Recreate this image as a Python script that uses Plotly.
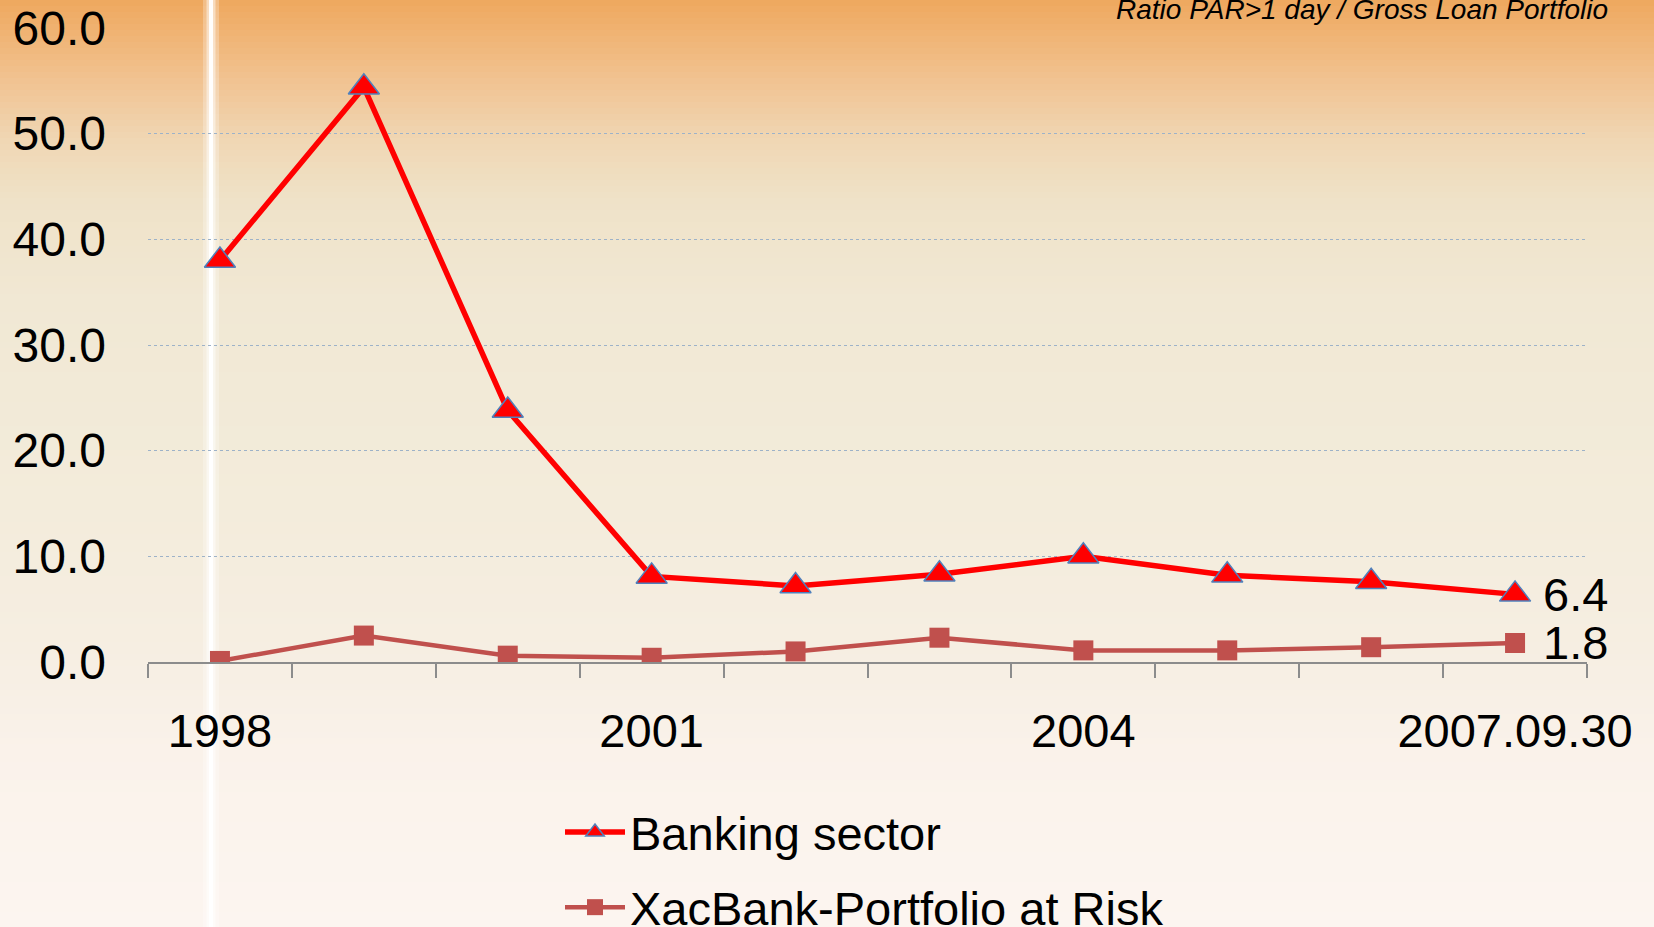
import plotly.graph_objects as go

# ---------------- data ----------------
categories = ["1998", "1999", "2000", "2001", "2002", "2003", "2004", "2005", "2006", "2007.09.30"]
tick_labels = ["1998", "", "", "2001", "", "", "2004", "", "", "2007.09.30"]
banking_sector = [38.0, 54.4, 23.8, 8.1, 7.2, 8.3, 10.0, 8.2, 7.6, 6.4]
xacbank_par = [0.1, 2.5, 0.6, 0.4, 1.0, 2.3, 1.1, 1.1, 1.4, 1.8]
y_ticks = [0, 10, 20, 30, 40, 50, 60]
chart_note = "Ratio PAR>1 day / Gross Loan Portfolio"

# ---------------- layout geometry ----------------
W, H = 1654, 927
ML, MR, MT, MB = 148, 67, 28, 265
PW, PH = W - ML - MR, H - MT - MB
FONT = "Liberation Sans, Arial, sans-serif"
FS = 47
LEG_ITEMW = 60


def px_x(p):
    return (p - ML) / PW


def px_y(p):
    return (H - MB - p) / PH


# background gradient (pixel y, colour)
stops = [
    (0, (238, 168, 94)),
    (30, (240, 178, 113)),
    (80, (241, 195, 145)),
    (140, (240, 215, 180)),
    (200, (239, 226, 200)),
    (300, (241, 232, 212)),
    (500, (243, 236, 219)),
    (650, (246, 238, 226)),
    (750, (250, 242, 234)),
    (927, (252, 245, 240)),
]


def colour_at(y):
    for (y0, c0), (y1, c1) in zip(stops[:-1], stops[1:]):
        if y0 <= y <= y1:
            t = (y - y0) / (y1 - y0) if y1 > y0 else 0
            return "rgb(%d,%d,%d)" % tuple(round(a + (b - a) * t) for a, b in zip(c0, c1))
    return "rgb(%d,%d,%d)" % stops[-1][1]


shapes = []
band = 6
for y in range(0, H, band):
    shapes.append(dict(
        type="rect", xref="paper", yref="paper", layer="below",
        x0=px_x(-2), x1=px_x(W + 2), y0=px_y(y + band + 1), y1=px_y(y),
        fillcolor=colour_at(y + band / 2), line=dict(width=0),
    ))
# white vertical streak of the background
for w, op in [(16, 0.25), (9, 0.45), (4, 0.95)]:
    shapes.append(dict(
        type="line", xref="paper", yref="paper", layer="below",
        x0=px_x(211), x1=px_x(211), y0=px_y(H + 2), y1=px_y(-2),
        line=dict(color="rgba(255,255,255,%.2f)" % op, width=w),
    ))

fig = go.Figure()

fig.add_trace(go.Scatter(
    x=categories, y=banking_sector, name="Banking sector",
    mode="lines+markers", legendgroup="a",
    line=dict(color="#FF0000", width=5.5),
    marker=dict(symbol="triangle-up", size=27, color="#FF0000",
                line=dict(color="#4F81BD", width=1.5)),
))
fig.add_trace(go.Scatter(
    x=categories, y=xacbank_par, name="XacBank-Portfolio at Risk",
    mode="lines+markers", legendgroup="b",
    line=dict(color="#C0504D", width=4.5),
    marker=dict(symbol="square", size=20, color="#C0504D"),
))

# end-point value labels
for series in (banking_sector, xacbank_par):
    fig.add_annotation(
        x=categories[-1], y=series[-1], text="%.1f" % series[-1],
        xref="x", yref="y", xanchor="left", yanchor="middle", xshift=26,
        showarrow=False, font=dict(family=FONT, size=FS, color="#000000"),
    )

fig.add_annotation(
    text="<i>%s</i>" % chart_note, xref="paper", yref="paper",
    x=px_x(1610), y=px_y(10), xanchor="right", yanchor="middle",
    showarrow=False, font=dict(family=FONT, size=28, color="#000000"),
)

fig.update_layout(
    width=W, height=H,
    margin=dict(l=ML, r=MR, t=MT, b=MB, pad=0, autoexpand=False),
    paper_bgcolor="rgb(252,245,240)",
    plot_bgcolor="rgba(0,0,0,0)",
    font=dict(family=FONT, size=FS, color="#000000"),
    shapes=shapes,
    showlegend=True,
    legend=dict(
        x=px_x(630 - LEG_ITEMW - 10), y=px_y(795), xanchor="left", yanchor="top",
        bgcolor="rgba(0,0,0,0)", font=dict(family=FONT, size=FS, color="#000000"),
        tracegroupgap=11, traceorder="grouped", itemwidth=LEG_ITEMW,
    ),
    xaxis=dict(
        type="category", categoryorder="array", categoryarray=categories,
        tickmode="array", tickvals=categories, ticktext=tick_labels,
        tickson="boundaries", ticks="outside", ticklen=14, tickwidth=2,
        tickcolor="#8C8C8C", showline=True, linecolor="#8C8C8C", linewidth=2,
        showgrid=False, zeroline=False, ticklabelstandoff=27, tickangle=0,
        automargin=False,
        tickfont=dict(family=FONT, size=FS, color="#000000"),
        range=[-0.5, len(categories) - 0.5],
    ),
    yaxis=dict(
        range=[0, 60], tickmode="array", tickvals=y_ticks,
        ticktext=["%.1f" % v for v in y_ticks],
        showgrid=True, gridcolor="#9DB2C8", gridwidth=1, griddash="dot",
        zeroline=False, showline=False, ticks="", ticklabelstandoff=41,
        automargin=False,
        tickfont=dict(family=FONT, size=FS + 1, color="#000000"),
    ),
)

fig.write_html("out.html", config={"displayModeBar": False},
               post_script="document.body.style.margin='0';")
